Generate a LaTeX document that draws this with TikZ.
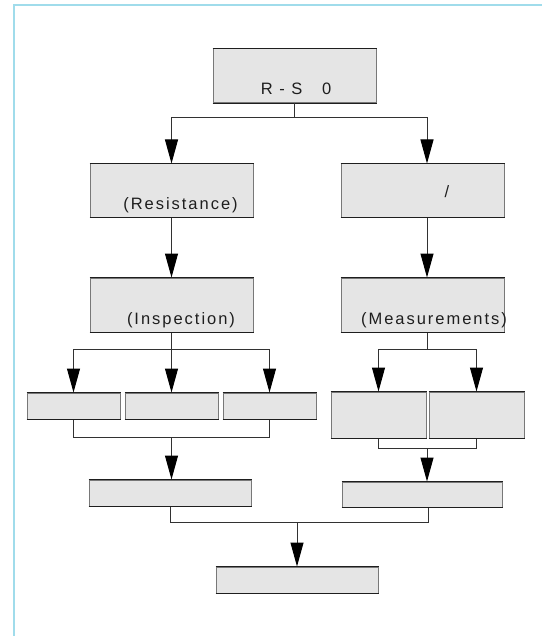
\documentclass[tikz,border=0pt]{standalone}
\usepackage{fontspec}
\setmainfont{Liberation Sans}[LetterSpace=12]
\usetikzlibrary{arrows.meta}
\definecolor{framec}{RGB}{160,220,235}
\definecolor{boxfill}{RGB}{229,229,229}
\definecolor{boxside}{RGB}{120,120,120}
\definecolor{boxedge}{RGB}{30,30,30}
\definecolor{linec}{RGB}{50,50,50}
\definecolor{txt}{RGB}{30,30,30}
\begin{document}
\begin{tikzpicture}[x=1pt,y=-1pt,
  box/.style={draw=boxside, line width=1pt, fill=boxfill, inner sep=0pt, anchor=center},
  boxedgeline/.style={draw=boxedge, line width=1pt},
  lbl/.style={font=\fontsize{16.5}{19}\selectfont, text=txt, inner sep=0pt, anchor=base},
  conn/.style={draw=linec, line width=1pt},
  arr/.style={conn, -{Triangle[length=24pt,width=13pt,color=black,fill=black]}}]
\useasboundingbox (0,0) rectangle (542,636);
\draw[framec, line width=2.5pt] (14,636) -- (14,5) -- (542,5);

\node[box, minimum width=163pt, minimum height=54pt] (top) at (294.5,76) {};
\node[box, minimum width=163pt, minimum height=53pt] (res) at (171.5,190.5) {};
\node[box, minimum width=163pt, minimum height=54pt] (ins) at (171.5,305) {};
\node[box, minimum width=163pt, minimum height=53pt] (mes) at (422.5,190.5) {};
\node[box, minimum width=163pt, minimum height=54pt] (mea) at (422.5,305) {};
\node[box, minimum width=93pt, minimum height=26pt] (l1) at (73.5,406) {};
\node[box, minimum width=93pt, minimum height=26pt] (l2) at (171.5,406) {};
\node[box, minimum width=93pt, minimum height=26pt] (l3) at (269.5,406) {};
\node[box, minimum width=95pt, minimum height=46pt] (r1) at (378.5,415) {};
\node[box, minimum width=95pt, minimum height=46pt] (r2) at (476.5,415) {};
\node[box, minimum width=162pt, minimum height=26pt] (bl) at (170,493) {};
\node[box, minimum width=160pt, minimum height=25pt] (br) at (422,494.5) {};
\node[box, minimum width=162pt, minimum height=26pt] (fin) at (297,580) {};

\foreach \n in {top,res,ins,mes,mea,l1,l2,l3,r1,r2,bl,br,fin}
  \draw[boxedgeline] (\n.north west) -- (\n.north east) (\n.south west) -- (\n.south east);

\node[lbl] (t1) at (296,95) {R - S\ \ \ 0};
\node[lbl] (t2) at (180.5,210) {(Resistance)};
\node[lbl] (t3) at (447,197) {/};
\node[lbl] (t4) at (181,324) {(Inspection)};
\node[lbl] (t5) at (434,324) {(Measurements)};

% top fork
\draw[conn] (top.south) -- ++(0,14) coordinate (f1);
\draw[arr] (f1) -| (res.north);
\draw[arr] (f1) -| ([xshift=4.5pt]mes.north);
\draw[arr] ([xshift=4.5pt]mes.south) -- ([xshift=4.5pt]mea.north);
\draw[arr] (res.south) -- (ins.north);

% left fork
\draw[conn] (ins.south) -- ++(0,17) coordinate (f2);
\draw[arr] (f2) -| (l1.north);
\draw[arr] (f2) -- (l2.north);
\draw[arr] (f2) -| (l3.north);
\draw[conn] (l1.south) -- ++(0,18) coordinate (j1) -| (l3.south);
\draw[arr] (j1 -| l2.south) -- (l2.south |- bl.north);

% right fork
\draw[conn] ([xshift=4.5pt]mea.south) -- ++(0,17) coordinate (f3);
\draw[arr] (f3) -| (r1.north);
\draw[arr] (f3) -| (r2.north);
\draw[conn] (r1.south) -- ++(0,10) coordinate (j3) -| (r2.south);
\draw[arr] (j3 -| f3) -- (f3 |- br.north);

% bottom join
\draw[conn] (bl.south) -- ++(0,16) coordinate (j4) -| ([xshift=6pt]br.south);
\draw[arr] (j4 -| fin.north) -- (fin.north);
\end{tikzpicture}
\end{document}
